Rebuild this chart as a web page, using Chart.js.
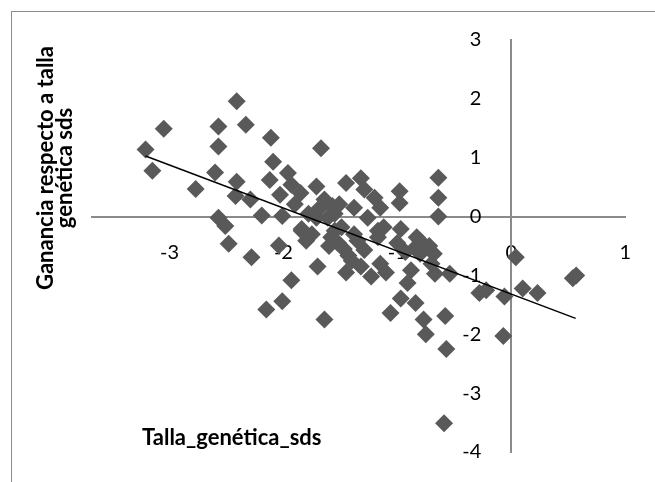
<!DOCTYPE html>
<html>
<head>
<meta charset="utf-8">
<script src="https://cdn.jsdelivr.net/npm/chart.js@4/dist/chart.umd.min.js"></script>
<style>
  html, body { margin: 0; padding: 0; background: #fff; }
  #wrap { position: relative; width: 655px; height: 482px; overflow: hidden; }
  #frame { position: absolute; left: 11px; top: 11px; width: 700px; height: 520px;
           border-left: 1.5px solid #8c8c8c; border-top: 1.5px solid #8c8c8c; }
  canvas { position: absolute; left: 0; top: 0; }
</style>
</head>
<body>
<div id="wrap">
  <div id="frame"></div>
  <canvas id="chart" width="655" height="482"></canvas>
</div>
<script>
// ── Datos ────────────────────────────────────────────────────────
const tallaGenetica = [
  -3.21, -3.15, -3.05, -2.77, -2.60, -2.57, -2.57, -2.41, -2.33, -2.41,
  -2.42, -2.29, -2.19, -2.57, -2.51, -2.48, -2.28, -2.04, -2.11, -1.67,
  -2.09, -1.96, -2.12, -1.93, -2.03, -1.85, -1.71, -1.90, -1.64, -1.57,
  -1.51, -1.45, -1.32, -1.29, -1.20, -1.38, -1.15, -2.01, -1.84, -1.71,
  -1.61, -1.55, -1.26, -1.17, -0.64, -0.98, -0.64, -0.98, -0.64, -1.12,
  -0.97, -0.80, -0.84, -1.80, -1.70, -1.93, -2.01, -2.15, -1.64, -1.58,
  -1.43, -1.29, -1.23, -1.15, -0.83, -0.80, -0.68, -0.67, -0.88, -0.91,
  -0.97, -0.84, -1.06, -0.77, -0.75, -0.58, -1.49, -1.35, -1.17,  0.04,
  -0.54, -0.28, -0.06,  0.10,  0.23,  0.54,  0.57, -0.07, -0.57, -0.59,
  -1.52, -1.47, -1.40, -1.32, -1.38, -1.60, -1.75, -1.00, -0.93, -0.72,
  -0.70, -1.78, -1.68, -1.55, -1.84, -0.22, -1.10, -1.45
];
const gananciaSds = [
   1.14,  0.78,  1.49,  0.47,  0.75,  1.53,  1.19,  1.96,  1.56,  0.59,
   0.35,  0.29,  0.02, -0.02, -0.16, -0.46, -0.69, -0.49,  1.34,  1.16,
   0.93,  0.74,  0.62,  0.54,  0.37,  0.40,  0.51,  0.21,  0.29,  0.18,
   0.21,  0.57,  0.65,  0.46,  0.32,  0.15,  0.15,  0.01, -0.21, -0.02,
  -0.02, -0.24, -0.02, -0.24,  0.66,  0.43,  0.32,  0.23,  0.00, -0.18,
  -0.21, -0.41, -0.52, -0.41, -0.85, -1.08, -1.44, -1.58, -1.75, -0.35,
  -0.66, -0.57, -1.02, -0.80, -0.35, -0.63, -0.63, -0.97, -0.91, -1.13,
  -1.39, -1.47, -1.64, -1.75, -2.00, -1.69, -0.18, -0.41, -0.35, -0.69,
  -0.97, -1.30, -1.36, -1.22, -1.30, -1.05, -1.00, -2.03, -2.25, -3.51,
  -0.45, -0.55, -0.75, -0.85, -0.30, -0.50, -0.30, -0.45, -0.60, -0.50,
  -0.80,  0.05,  0.15,  0.05, -0.24, -1.25, -0.95, -0.95
];

// línea de tendencia (extremos leídos)
const trendX = [-3.21, 0.565];
const trendY = [1.03, -1.73];

const xTicks = [-3, -2, -1, 0, 1];
const yTicks = [3, 2, 1, 0, -1, -2, -3, -4];

const axisColor = '#8a8a8a';
const tickFont  = { family: 'Lato', size: 20 };
const titleFont = 'bold 22px Lato';

// ── Títulos de los ejes ──────────────────────────────────────────
const axisTitles = {
    id: 'axisTitles',
    afterDraw(chart) {
        const ctx = chart.ctx;
        ctx.save();
        ctx.fillStyle = '#000';
        ctx.font = titleFont;
        ctx.textAlign = 'center';
        ctx.textBaseline = 'middle';
        ctx.save();
        ctx.translate(55, 168);
        ctx.rotate(-Math.PI / 2);
        ctx.fillText('Ganancia respecto a talla', 0, -9);
        ctx.fillText('genética sds', 0, 10);
        ctx.restore();
        ctx.textAlign = 'left';
        ctx.fillText('Talla_genética_sds', 142, 438);
        ctx.restore();
    }
};

new Chart(document.getElementById('chart'), {
    data: {
        datasets: [
            {
                type: 'scatter',
                label: 'Ganancia',
                data: tallaGenetica.map((x, i) => ({ x: x, y: gananciaSds[i] })),
                pointStyle: 'rectRot',
                pointRadius: 9,
                pointBorderWidth: 0,
                backgroundColor: '#595959',
                borderColor: '#595959',
                order: 2,
            },
            {
                type: 'line',
                label: 'Tendencia',
                data: trendX.map((x, i) => ({ x: x, y: trendY[i] })),
                borderColor: '#000',
                borderWidth: 1.5,
                pointRadius: 0,
                fill: false,
                order: 1,
            }
        ]
    },
    options: {
        responsive: false,
        animation: false,
        layout: { padding: { left: 92, right: 24, top: 40, bottom: 24 } },
        plugins: { legend: { display: false }, tooltip: { enabled: false } },
        scales: {
            x: {
                type: 'linear',
                min: -3.68, max: 1,
                position: { y: 0 },
                grid: { display: false, drawTicks: false },
                border: { color: axisColor, width: 2 },
                afterBuildTicks: s => { s.ticks = xTicks.map(v => ({ value: v })); },
                afterFit: s => { s.height = 0; },
                ticks: { font: tickFont, color: '#000', padding: 24, maxRotation: 0 }
            },
            y: {
                type: 'linear',
                min: -4, max: 3,
                position: { x: 0 },
                grid: { display: false, drawTicks: false },
                border: { color: axisColor, width: 2 },
                afterBuildTicks: s => { s.ticks = yTicks.map(v => ({ value: v })); },
                afterFit: s => { s.width = 0; },
                ticks: { font: tickFont, color: '#000', padding: 18,
                         callback: v => v + '\u2002\u2002\u2002' }
            }
        }
    },
    plugins: [axisTitles]
});
</script>
</body>
</html>
